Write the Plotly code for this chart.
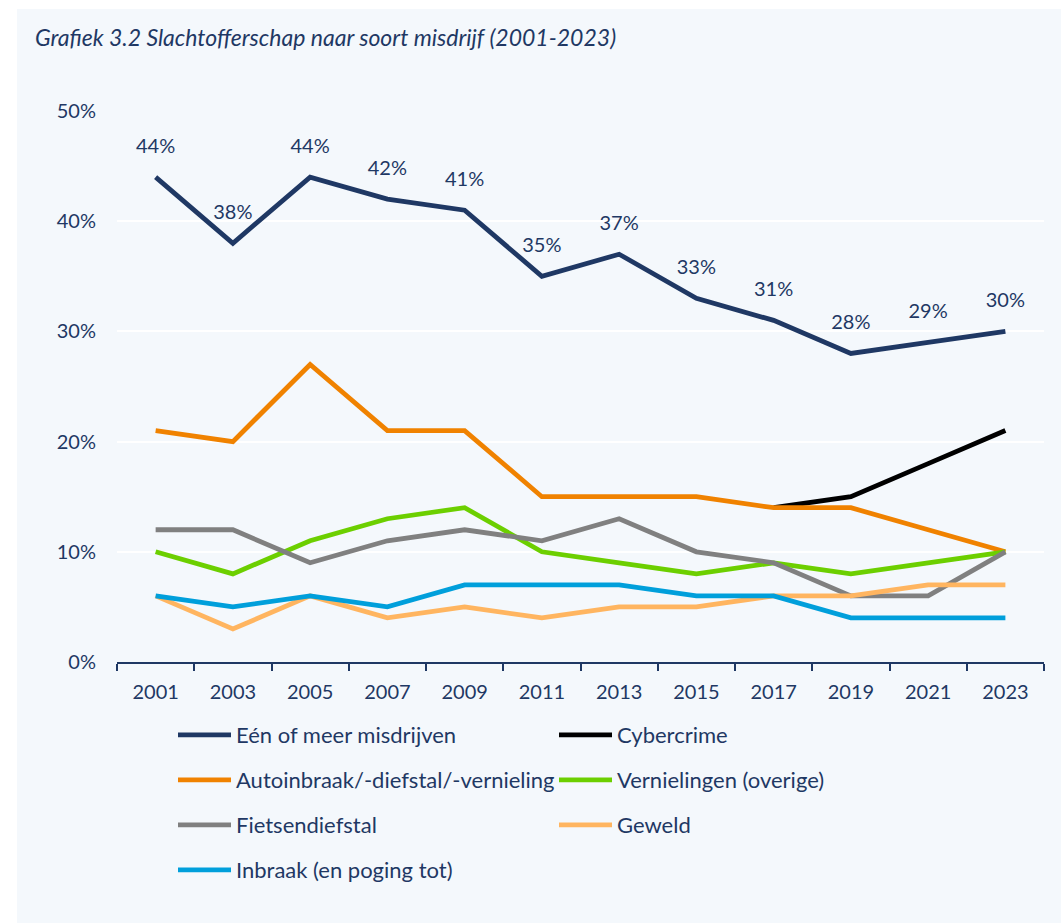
import plotly.graph_objects as go

years = ["2001", "2003", "2005", "2007", "2009", "2011", "2013", "2015", "2017", "2019", "2021", "2023"]
een_of_meer = [44, 38, 44, 42, 41, 35, 37, 33, 31, 28, 29, 30]
cybercrime = [None, None, None, None, None, None, None, None, 14, 15, 18, 21]
auto = [21, 20, 27, 21, 21, 15, 15, 15, 14, 14, 12, 10]
vernielingen = [10, 8, 11, 13, 14, 10, 9, 8, 9, 8, 9, 10]
fiets = [12, 12, 9, 11, 12, 11, 13, 10, 9, 6, 6, 10]
geweld = [6, 3, 6, 4, 5, 4, 5, 5, 6, 6, 7, 7]
inbraak = [6, 5, 6, 5, 7, 7, 7, 6, 6, 4, 4, 4]

series_names = ["Eén of meer misdrijven", "Cybercrime", "Autoinbraak/-diefstal/-vernieling",
                "Vernielingen (overige)", "Fietsendiefstal", "Geweld", "Inbraak (en poging tot)"]
series_values = [een_of_meer, cybercrime, auto, vernielingen, fiets, geweld, inbraak]
series_colors = ["#1f3864", "#000000", "#f08200", "#6ccf00", "#808080", "#ffb560", "#009fdb"]
legend_ids = ["legend", "legend", "legend2", "legend2", "legend3", "legend3", "legend4"]

NAVY = "#1f3864"
FONT = "Lato, 'Noto Sans', sans-serif"

fig = go.Figure()
for name, vals, col, lg in zip(series_names, series_values, series_colors, legend_ids):
    fig.add_trace(go.Scatter(
        x=years, y=vals, name=name, mode="lines",
        line=dict(color=col, width=4.8), legend=lg,
        connectgaps=False, hoverinfo="x+y+name"))

# data labels for the main series (transparent markers push the text upward)
fig.add_trace(go.Scatter(
    x=years, y=een_of_meer, mode="markers+text",
    text=[f"{v}%" for v in een_of_meer], textposition="top center",
    marker=dict(size=29, opacity=0), showlegend=False, hoverinfo="skip",
    textfont=dict(family=FONT, size=20, color=NAVY), cliponaxis=False))

W, H = 1061, 923
L, R, T, B = 117, 17, 111, 261
pw, ph = W - L - R, H - T - B

def px_x(p):
    return (p - L) / pw

def px_y(p):
    return (H - B - p) / ph

# background panel
fig.add_shape(type="rect", xref="paper", yref="paper",
              x0=px_x(17), x1=px_x(1061), y0=px_y(923), y1=px_y(9),
              fillcolor="#f4f8fc", line=dict(width=0), layer="below")

legend_common = dict(orientation="h", xanchor="left", yanchor="middle",
                     font=dict(family=FONT, size=22, color=NAVY),
                     bgcolor="rgba(0,0,0,0)", entrywidth=313, itemwidth=53,
                     traceorder="normal")
row_ys = [735, 780, 825, 870]
legend_x = px_x(173)

fig.update_layout(
    width=W, height=H,
    margin=dict(l=L, r=R, t=T, b=B, autoexpand=False),
    paper_bgcolor="white", plot_bgcolor="rgba(0,0,0,0)",
    title=dict(text="<i>Grafiek 3.2 Slachtofferschap naar soort misdrijf (2001-2023)</i>",
               x=35 / W, xanchor="left", y=1 - 38 / H, yanchor="middle",
               font=dict(family=FONT, size=23, color=NAVY)),
    legend=dict(legend_common, x=legend_x, y=px_y(row_ys[0])),
    legend2=dict(legend_common, x=legend_x, y=px_y(row_ys[1])),
    legend3=dict(legend_common, x=legend_x, y=px_y(row_ys[2])),
    legend4=dict(legend_common, x=legend_x, y=px_y(row_ys[3])),
    xaxis=dict(type="category", range=[-0.5, 11.5], tickson="boundaries",
               ticks="outside", ticklen=7, tickwidth=1.5, tickcolor=NAVY,
               showline=True, linecolor=NAVY, linewidth=1.5, showgrid=False,
               tickfont=dict(family=FONT, size=20, color=NAVY), ticklabelstandoff=11),
    yaxis=dict(range=[0, 50], tickvals=[0, 10, 20, 30, 40, 50],
               ticktext=["0%", "10%", "20%", "30%", "40%", "50%"],
               showgrid=True, gridcolor="white", gridwidth=1.5, zeroline=False,
               showline=False, ticks="", ticklabelstandoff=20,
               tickfont=dict(family=FONT, size=20, color=NAVY)),
    showlegend=True,
)

fig.write_html("out.html", config={"displayModeBar": False},
               post_script="document.body.style.margin='0';")
